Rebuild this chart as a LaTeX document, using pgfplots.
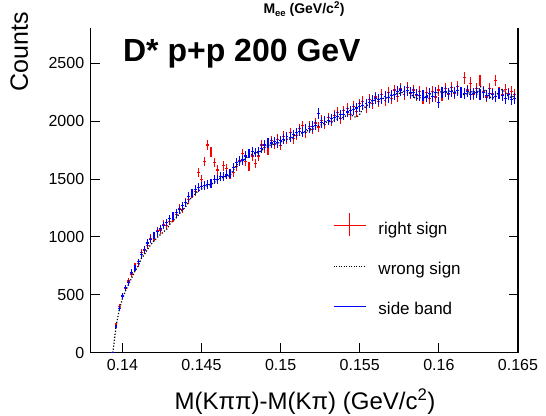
\documentclass[border=0pt]{standalone}
\usepackage{fontspec}
\setmainfont{Liberation Sans}
\usepackage{pgfplots}
\usepackage{pgfplotstable}
\pgfplotsset{compat=1.18}
\definecolor{rsred}{RGB}{255,0,0}
\definecolor{sbblue}{RGB}{0,0,255}

\pgfplotstableread{
x r w b
0.1394 0 0 0
0.1396 245 225 228
0.1398 400 370 384
0.1400 495 465 490
0.1402 555 535 565
0.1404 620 590 605
0.1406 680 650 695
0.1408 745 705 730
0.1410 770 750 785
0.1412 865 815 850
0.1414 880 850 895
0.1416 925 895 948
0.1418 990 935 975
0.1420 1000 965 1015
0.1422 1055 995 1045
0.1424 1060 1020 1075
0.1426 1110 1045 1100
0.1428 1100 1065 1125
0.1430 1135 1110 1160
0.1432 1160 1140 1180
0.1434 1195 1165 1210
0.1436 1250 1200 1235
0.1438 1240 1235 1270
0.1440 1300 1260 1295
0.1442 1325 1315 1350
0.1444 1370 1345 1380
0.1446 1395 1370 1410
0.1448 1556 1400 1430
0.1450 1500 1415 1440
0.1452 1650 1430 1448
0.1454 1795 1445 1455
0.1456 1732 1455 1465
0.1458 1642 1470 1493
0.1460 1579 1495 1500
0.1462 1525 1510 1521
0.1464 1614 1515 1520
0.1466 1594 1525 1536
0.1468 1540 1530 1545
0.1470 1560 1575 1600
0.1472 1610 1620 1640
0.1474 1660 1640 1655
0.1476 1723 1655 1665
0.1478 1650 1680 1700
0.1480 1608 1705 1723
0.1482 1700 1715 1735
0.1484 1637 1720 1730
0.1486 1700 1730 1740
0.1488 1795 1745 1765
0.1490 1770 1775 1795
0.1492 1752 1790 1810
0.1494 1830 1795 1812
0.1496 1800 1805 1825
0.1498 1845 1810 1815
0.1500 1790 1820 1830
0.1502 1870 1835 1845
0.1504 1845 1850 1865
0.1506 1900 1845 1860
0.1508 1850 1870 1885
0.1510 1880 1890 1900
0.1512 1935 1880 1915
0.1514 1960 1900 1905
0.1516 1900 1915 1930
0.1518 1955 1920 1940
0.1520 1930 1935 1955
0.1522 1985 1950 1965
0.1524 1950 1960 2065
0.1526 2010 1970 1990
0.1528 1975 1985 2000
0.1530 2030 2000 2010
0.1532 2000 1990 2020
0.1534 2050 2010 2035
0.1536 2075 2020 2045
0.1538 2025 2030 2055
0.1540 2090 2035 2060
0.1542 2110 2055 2080
0.1544 2060 2070 2090
0.1546 2130 2040 2100
0.1548 2085 2035 2115
0.1550 2150 2060 2125
0.1552 2170 2110 2140
0.1554 2120 2130 2150
0.1556 2190 2150 2165
0.1558 2150 2170 2180
0.1560 2210 2185 2200
0.1562 2170 2190 2190
0.1564 2230 2200 2195
0.1566 2180 2195 2215
0.1568 2250 2215 2205
0.1570 2200 2230 2220
0.1572 2270 2225 2230
0.1574 2215 2245 2260
0.1576 2280 2240 2270
0.1578 2235 2260 2255
0.1580 2290 2250 2265
0.1582 2240 2240 2250
0.1584 2270 2210 2245
0.1586 2225 2195 2235
0.1588 2260 2205 2220
0.1590 2200 2190 2225
0.1592 2245 2215 2210
0.1594 2195 2230 2240
0.1596 2255 2245 2215
0.1598 2210 2235 2250
0.1600 2270 2250 2160
0.1602 2220 2255 2245
0.1604 2280 2245 2255
0.1606 2230 2260 2240
0.1608 2290 2265 2260
0.1610 2240 2255 2250
0.1612 2300 2245 2265
0.1614 2250 2235 2245
0.1616 2375 2230 2240
0.1618 2270 2240 2260
0.1620 2330 2250 2235
0.1622 2230 2260 2240
0.1624 2280 2235 2250
0.1626 2350 2300 2230
0.1628 2260 2290 2245
0.1630 2210 2245 2225
0.1632 2280 2210 2240
0.1634 2240 2200 2230
0.1636 2355 2215 2215
0.1638 2250 2260 2240
0.1640 2230 2275 2225
0.1642 2275 2250 2200
0.1644 2240 2215 2235
0.1646 2255 2205 2190
0.1648 2230 2225 2200
}\dstar

\begin{document}
\begin{tikzpicture}
\useasboundingbox (-90.7pt,-62.3pt) rectangle (455.3pt,352.7pt);
\begin{axis}[
  at={(0pt,0pt)}, anchor=south west,
  scale only axis, width=427.3pt, height=324.7pt,
  xmin=0.138, xmax=0.165, ymin=0, ymax=2806,
  axis x line*=bottom, axis y line*=box,
  xtick={0.14,0.145,0.15,0.155,0.16,0.165},
  ytick={0,500,1000,1500,2000,2500},
  minor tick num=0,
  tick align=inside, major tick length=9.5pt,
  axis line style={line width=1.5pt},
  every tick/.style={black, line width=1pt},
  /pgf/number format/assume math mode=true,
  /pgf/number format/1000 sep={},
  xticklabel style={/pgf/number format/fixed, /pgf/number format/precision=3, yshift=-3pt},
  ticklabel style={font=\fontsize{16}{19}\selectfont},
  yticklabel style={xshift=-3pt},
  legend cell align=left,
  legend style={at={(rel axis cs:0.567,0.4312)}, anchor=north west,
    draw=none, fill=none, inner sep=0pt, outer sep=0pt,
    row sep=23pt, column sep=12pt,
    nodes={inner sep=0pt, text height=12pt, text depth=5.3pt,
      font=\fontsize{17}{20}\selectfont}},
]
\addlegendimage{legend image code/.code={
  \draw[color=rsred, line width=1.5pt] (0pt,5pt) -- (32pt,5pt);
  \draw[color=rsred, line width=1.5pt] (16pt,-5.3pt) -- (16pt,17.3pt);}}
\addlegendentry{right sign}
\addlegendimage{legend image code/.code={
  \draw[color=black, line width=1pt, dash pattern=on 1pt off 1.5pt] (0pt,5pt) -- (32pt,5pt);}}
\addlegendentry{wrong sign}
\addlegendimage{legend image code/.code={
  \draw[color=sbblue, line width=1.5pt] (0pt,5pt) -- (32pt,5pt);}}
\addlegendentry{side band}

\addplot[rsred, draw=none, mark=none, forget plot,
  error bars/.cd, y dir=both, y explicit, x dir=both, x fixed=0.00009,
  error mark=none, error bar style={draw=rsred, solid, line width=1.1pt}]
  table[x=x, y=r, y error expr={sqrt(\thisrow{r})}] {\dstar};
\addplot[black, line width=1.2pt, dash pattern=on 1.2pt off 1.8pt, forget plot]
  table[x=x, y=w] {\dstar};
\addplot[sbblue, draw=none, mark=none, forget plot,
  error bars/.cd, y dir=both, y explicit, x dir=both, x fixed=0.00009,
  error mark=none, error bar style={draw=sbblue, solid, line width=1.1pt}]
  table[x=x, y=b, y error expr={sqrt(\thisrow{b})}] {\dstar};
\end{axis}
\node[anchor=base west, font=\fontsize{32}{38}\selectfont\bfseries] at (28.9pt,291pt) {D* p+p 200 GeV};
\node[anchor=base west, font=\fontsize{14}{17}\selectfont\bfseries] at (169.3pt,339.2pt) {M\raisebox{-0.25em}{\fontsize{9.5}{11}\selectfont ee} (GeV/c\textsuperscript{2})};
\node[anchor=base, font=\fontsize{24}{29}\selectfont] at (214.3pt,-56.5pt) {M(Kππ)-M(Kπ) (GeV/c\textsuperscript{2})};
\node[rotate=90, anchor=base, font=\fontsize{25}{30}\selectfont] at (-62.7pt,301.2pt) {Counts};
\end{tikzpicture}
\end{document}
